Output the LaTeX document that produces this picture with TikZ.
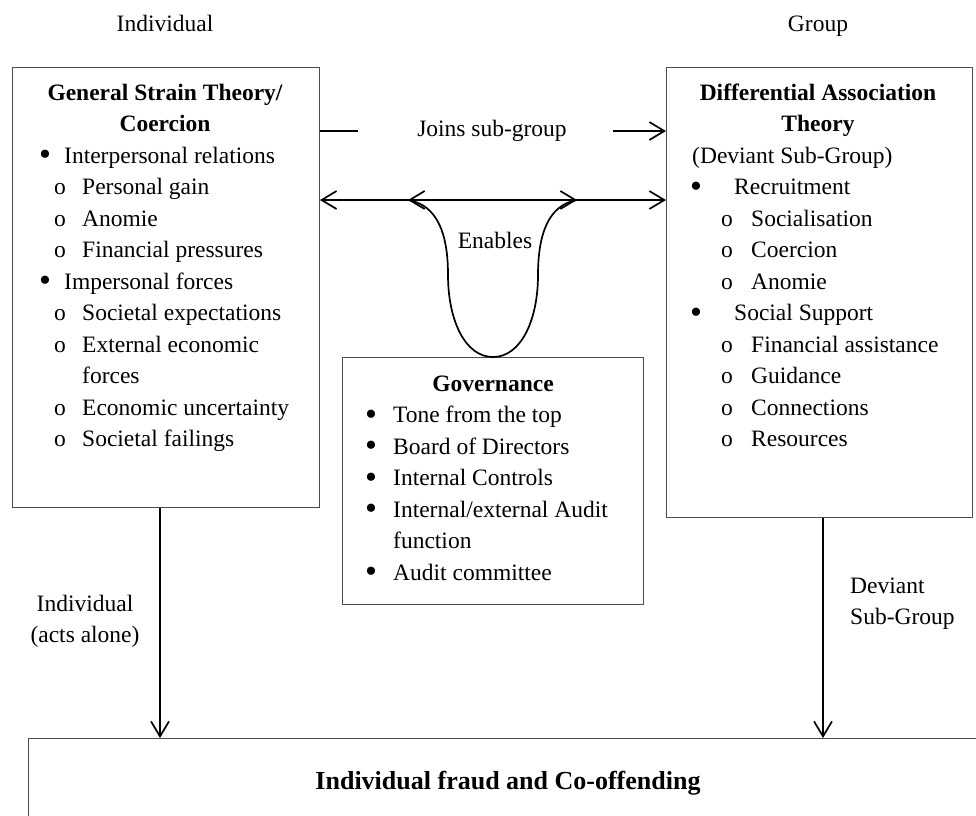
\documentclass[tikz,border=0pt]{standalone}
\usepackage{fontspec}
\setmainfont{Liberation Serif}
\usetikzlibrary{arrows.meta}
\tikzset{
  box/.style={draw=black!70, line width=0.9pt, anchor=north west, inner sep=0pt},
  conn/.style={line width=1.7pt, draw=black},
  txt/.style={anchor=base west, inner sep=0pt},
  ctxt/.style={anchor=base, inner sep=0pt},
  hd/.style={anchor=base, inner sep=0pt, font=\fontsize{23.5}{31.5}\selectfont\bfseries},
  >={Straight Barb[length=15pt,width=18pt]}
}
\newcommand{\bl}[1]{\makebox[#1][l]{\raisebox{-2.5pt}{\scalebox{1.45}{\textbullet}}}}
\newcommand{\ob}[1]{\makebox[#1][l]{o}}
\begin{document}
\begin{tikzpicture}[x=1pt,y=-1pt,
  every node/.style={font=\fontsize{23.5}{31.5}\selectfont}]
\useasboundingbox (0,0) rectangle (976,815);

% top labels
\node[ctxt] (tind) at (165,31) {Individual};
\node[ctxt] (tgrp) at (818,31) {Group};

% boxes
\node[box, minimum width=307pt, minimum height=440pt] (gst) at (12,67) {};
\node[box, minimum width=306pt, minimum height=450pt] (dat) at (666,67) {};
\node[box, minimum width=301pt, minimum height=247pt] (gov) at (342,357) {};
\node[box, minimum width=1000pt, minimum height=150pt] (fraud) at (28,738) {};

% left box text
\node[hd] (g0) at (165,100) {General Strain Theory/};
\node[hd] (g00) at (165,131.5) {Coercion};
\node[txt] (g1) at (39,163) {\bl{25pt}Interpersonal relations};
\node[txt] (g2) at (54,194.5) {\ob{28pt}Personal gain};
\node[txt] (g3) at (54,226) {\ob{28pt}Anomie};
\node[txt] (g4) at (54,257.5) {\ob{28pt}Financial pressures};
\node[txt] (g5) at (39,289) {\bl{25pt}Impersonal forces};
\node[txt] (g6) at (54,320.5) {\ob{28pt}Societal expectations};
\node[txt] (g7) at (54,352) {\ob{28pt}External economic};
\node[txt] (g8) at (82,383.5) {forces};
\node[txt] (g9) at (54,415) {\ob{28pt}Economic uncertainty};
\node[txt] (g10) at (54,446.5) {\ob{28pt}Societal failings};

% right box text
\node[hd] (d0) at (818,100) {Differential Association};
\node[hd] (d00) at (818,131.5) {Theory};
\node[txt] (d1) at (692,163) {(Deviant Sub-Group)};
\node[txt] (d2) at (690,194.5) {\bl{44pt}Recruitment};
\node[txt] (d3) at (721,226) {\ob{30pt}Socialisation};
\node[txt] (d4) at (721,257.5) {\ob{30pt}Coercion};
\node[txt] (d5) at (721,289) {\ob{30pt}Anomie};
\node[txt] (d6) at (690,320.5) {\bl{44pt}Social Support};
\node[txt] (d7) at (721,352) {\ob{30pt}Financial assistance};
\node[txt] (d8) at (721,383.5) {\ob{30pt}Guidance};
\node[txt] (d9) at (721,415) {\ob{30pt}Connections};
\node[txt] (d10) at (721,446.5) {\ob{30pt}Resources};

% governance text
\node[hd] (v0) at (493,391) {Governance};
\node[txt] (v1) at (365,422.5) {\bl{28pt}Tone from the top};
\node[txt] (v2) at (365,454) {\bl{28pt}Board of Directors};
\node[txt] (v3) at (365,485.5) {\bl{28pt}Internal Controls};
\node[txt] (v4) at (365,517) {\bl{28pt}Internal/external Audit};
\node[txt] (v5) at (393,548.5) {function};
\node[txt] (v6) at (365,580) {\bl{28pt}Audit committee};

% bottom box text
\node[anchor=base, inner sep=0pt, font=\fontsize{26}{31}\selectfont\bfseries] (ft) at (508,789) {Individual fraud and Co-offending};

% joins sub-group
\node[inner sep=0pt] (joins) at (492,131) {Joins sub-group};
\draw[conn] (gst.east |- joins) -- ([xshift=-59pt]joins.west);
\draw[conn,->] ([xshift=46pt]joins.east) -- (dat.west |- joins);

% enables double arrow and loop
\coordinate (h) at (493,200);
\coordinate (e1) at (408,200);
\coordinate (e2) at (577,200);
\draw[conn,<->] (gst.east |- h) -- (dat.west |- h);
\draw[conn,<->] (e1) -- (e2);
\draw[conn] (e1) .. controls (438,205) and (448,235) .. (448,275)
  .. controls (448,320) and (465,357) .. (gov.north)
  .. controls (521,357) and (538,320) .. (538,275)
  .. controls (538,235) and (548,205) .. (e2);
\node[inner sep=0pt] (en) at (495,240) {Enables};

% vertical arrows
\coordinate (la) at (160,0);
\coordinate (ra) at (823,0);
\draw[conn,->] (gst.south -| la) -- (fraud.north -| la);
\draw[conn,->] (dat.south -| ra) -- (fraud.north -| ra);

% arrow labels
\node[ctxt] (ia1) at (85,611) {Individual};
\node[ctxt] (ia2) at (85,642.5) {(acts alone)};
\node[txt] (dv1) at (850,593) {Deviant};
\node[txt] (dv2) at (850,624.5) {Sub-Group};
\end{tikzpicture}
\end{document}
